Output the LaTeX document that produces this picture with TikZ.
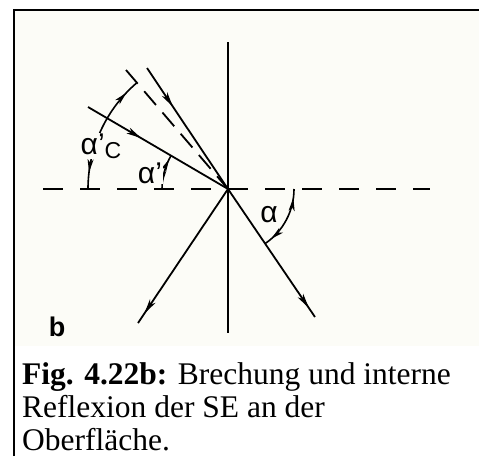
\documentclass[tikz,border=0pt]{standalone}
\usepackage{fontspec}
\setmainfont{Liberation Serif}
\newfontfamily\lblfont{Liberation Sans}
\usetikzlibrary{arrows.meta,decorations.markings}
\definecolor{scanpaper}{RGB}{252,252,247}
\tikzset{
  ray/.style={line width=1.8pt},
  arrowat/.style={postaction={decorate,decoration={markings,
      mark=at position #1 with {\arrow{Stealth[length=15pt,width=6.5pt,inset=4pt]}}}}},
  dimarc/.style={line width=1.6pt,postaction={decorate,decoration={markings,
      mark=at position 0.14 with {\arrowreversed{Stealth[length=13pt,width=6pt,inset=3.5pt]}},
      mark=at position 0.88 with {\arrow{Stealth[length=13pt,width=6pt,inset=3.5pt]}}}}},
  lbl/.style={inner sep=1pt,fill=scanpaper,font={\fontsize{30}{32}\lblfont}},
  captext/.style={anchor=base west,inner sep=0pt,font={\fontsize{31.5}{34}\selectfont}}
}

\begin{document}
\begin{tikzpicture}[x=1pt,y=1pt]
  \useasboundingbox (0,0) rectangle (479,-456);
  % scanned panel and frame
  \fill[scanpaper] (15,-11) rectangle (479,-346);
  \draw[line width=2.5pt] (14,-456) -- (14,-10) -- (479,-10);

  \coordinate (O) at (228,-189);
  \coordinate (ntop) at (228,-42);
  \coordinate (nbot) at (228,-333);
  \coordinate (sleft) at (43,-189);
  \coordinate (sright) at (430,-189);
  \coordinate (inc) at (147,-68);
  \coordinate (refr) at (315,-317);
  \coordinate (refl) at (138,-323);
  \coordinate (out) at (88,-107);
  \coordinate (crit) at (126,-70);

  % normal and surface
  \draw[ray] (ntop) -- (nbot);
  \draw[ray,dash pattern=on 20pt off 17pt] (sleft) -- (sright);

  % rays
  \draw[ray,arrowat=0.32] (inc) -- (O);
  \draw[ray,arrowat=0.93] (O) -- (refr);
  \draw[ray,arrowat=0.93] (O) -- (refl);
  \draw[ray,arrowat=0.38] (out) -- (O);
  \draw[ray,dash pattern=on 18pt off 10pt] (crit) -- (O);

  % angles
  \draw[dimarc] (O) ++(0:66) arc[start angle=0,end angle=-55.8,radius=66];
  \draw[dimarc] (O) ++(180:66) arc[start angle=180,end angle=149.6,radius=66];
  \draw[dimarc] (O) ++(180:140) arc[start angle=180,end angle=130.6,radius=140];

  \node[lbl] (alpha) at (269,-215) {α};
  \node[lbl] (alphap) at (150,-173) {α’};
  \node[lbl] (alphac) at (101,-146) {α’\raisebox{-0.25ex}{\fontsize{23}{25}\selectfont C}};
  \node[inner sep=0pt,font={\fontsize{27}{30}\lblfont\bfseries}] (panel) at (57,-327) {b};

  % caption
  \node[captext] (cap1) at (22,-384) {\textbf{Fig. 4.22b:} Brechung und interne};
  \node[captext] (cap2) at (22,-417) {Reflexion der SE an der};
  \node[captext] (cap3) at (22,-450) {Oberfläche.};
\end{tikzpicture}
\end{document}
